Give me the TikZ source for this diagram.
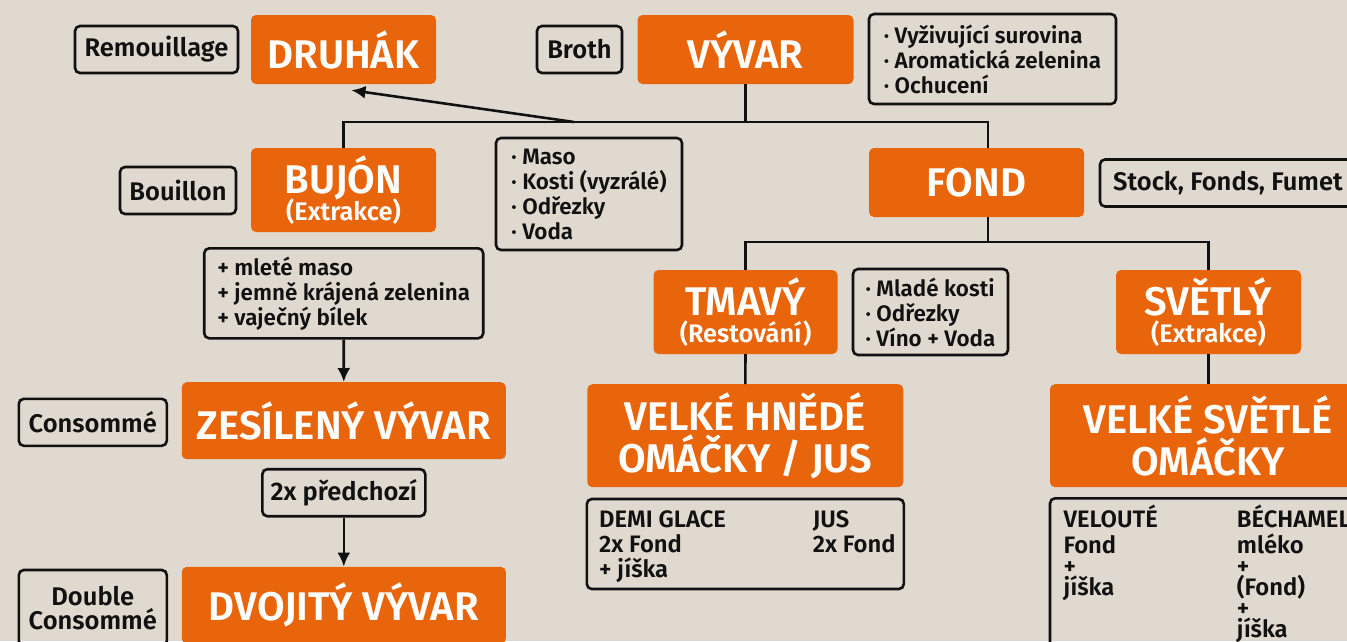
\documentclass[tikz,border=0pt]{standalone}
\usepackage{fontspec}
\IfFontExistsTF{Fira Sans SemiBold}
  {\setmainfont{Fira Sans}[BoldFont={Fira Sans SemiBold}]}
  {\setmainfont{Fira Sans}}
\usetikzlibrary{arrows.meta}
\definecolor{brand}{HTML}{E9650B}
\definecolor{wood}{HTML}{E0D9CF}
\definecolor{ink}{HTML}{111111}
\setlength\lineskiplimit{-30pt}
\newcommand\headfont{\fontsize{40}{42}\selectfont\bfseries}
\newcommand\subfont{\fontsize{25.4}{27}\selectfont\bfseries}
\newcommand\tagfont{\fontsize{25.5}{24}\selectfont\bfseries}
\newcommand\listfont{\fontsize{22.4}{25}\selectfont\bfseries}
\newcommand\colfont{\fontsize{23.8}{25}\selectfont\bfseries}
\tikzset{>={Latex[length=14pt,width=13pt]}}
\tikzset{
  orangebox/.style={fill=brand, text=white, rounded corners=5pt,
    font=\headfont, align=center, inner sep=0pt},
  tagbox/.style={draw=ink, line width=2.6pt, rounded corners=5pt,
    text=ink, font=\tagfont, align=center, inner sep=0pt},
  listbox/.style={tagbox, align=left, font=\listfont},
  colnode/.style={text=ink, font=\colfont, align=left, inner sep=0pt, anchor=north west},
  link/.style={draw=ink, line width=2.6pt},
}

\begin{document}
\begin{tikzpicture}[x=1pt,y=-1pt]
    \clip (0,0) rectangle (1347,641);
    \fill[wood] (0,0) rectangle (1347,641);
    %top row
    \node[tagbox, minimum width=163pt, minimum height=47pt] (remou) at (156.5,49.5) {Remouillage};
    \node[orangebox, minimum width=185pt, minimum height=69pt] (druhak) at (343.5,49.5) {DRUHÁK};
    \node[tagbox, minimum width=85pt, minimum height=47pt] (broth) at (579.5,49.5) {Broth};
    \node[orangebox, minimum width=216pt, minimum height=69pt] (vyvar) at (745.5,49.5) {VÝVAR};
    \node[listbox, minimum width=247pt, minimum height=90pt] (vyvarinfo) at (992.5,59)
        {· Vyživující surovina\\· Aromatická zelenina\\· Ochucení};
    %second row
    \node[tagbox, minimum width=116pt, minimum height=47pt] (bouillon) at (178,190.5) {Bouillon};
    \node[orangebox, minimum width=185pt, minimum height=84pt] (bujon) at (343.5,190)
        {BUJÓN\\[-15pt]{\subfont (Extrakce)}};
    \node[listbox, minimum width=186pt, minimum height=112pt] (bujoninfo) at (589,194)
        {· Maso\\· Kosti (vyzrálé)\\· Odřezky\\· Voda};
    \node[orangebox, minimum width=215pt, minimum height=69pt] (fond) at (976.5,182.5) {FOND};
    \node[tagbox, minimum width=256pt, minimum height=47pt] (stock) at (1228,183) {Stock, Fonds, Fumet};
    %left column
    \node[listbox, minimum width=279pt, minimum height=90pt] (pridat) at (343.7,293.3)
        {+ mleté maso\\+ jemně krájená zelenina\\+ vaječný bílek};
    \node[orangebox, minimum width=324pt, minimum height=77pt] (zesileny) at (343.8,420.7) {ZESÍLENÝ VÝVAR};
    \node[tagbox, minimum width=148pt, minimum height=47pt] (consomme) at (92.8,422.3) {Consommé};
    \node[tagbox, minimum width=163pt, minimum height=47pt] (predchozi) at (343.8,492.7) {2x předchozí};
    \node[orangebox, minimum width=324pt, minimum height=77pt] (dvojity) at (343.8,605.3) {DVOJITÝ VÝVAR};
    \node[tagbox, minimum width=148pt, minimum height=76pt] (double) at (92.8,608) {Double\\Consommé};
    %fond branches
    \node[orangebox, minimum width=184pt, minimum height=84pt] (tmavy) at (745.5,312)
        {TMAVÝ\\[-15pt]{\subfont (Restování)}};
    \node[listbox, minimum width=155pt, minimum height=86pt] (tmavyinfo) at (930.5,312)
        {· Mladé kosti\\· Odřezky\\· Víno + Voda};
    \node[orangebox, minimum width=185pt, minimum height=84pt] (svetly) at (1208.5,312)
        {SVĚTLÝ\\[-15pt]{\subfont (Extrakce)}};
    \node[orangebox, minimum width=316pt, minimum height=103pt] (hnede) at (745.3,435.7)
        {VELKÉ HNĚDÉ\\OMÁČKY / JUS};
    \node[tagbox, minimum width=317pt, minimum height=90pt] (hnedeinfo) at (745.3,544) {};
    \node[colnode] (demi) at (599,510) {DEMI GLACE\\2x Fond\\+ jíška};
    \node[colnode] (jus) at (812.7,510) {JUS\\2x Fond};
    \node[orangebox, minimum width=316pt, minimum height=103pt] (svetle) at (1208,435.7)
        {VELKÉ SVĚTLÉ\\OMÁČKY};
    \node[tagbox, minimum width=317pt, minimum height=160pt] (svetleinfo) at (1208.5,578.3) {};
    \node[colnode] (veloute) at (1063.3,505) {VELOUTÉ\\[1pt]Fond\\[-4pt]+\\[-4pt]jíška};
    \node[colnode] (bechamel) at (1236.7,505)
        {BÉCHAMEL\\[1pt]mléko\\[-4pt]+\\[-4pt](Fond)\\[-4pt]+\\[-4pt]jíška};
    %connectors
    \coordinate (split1) at (745.5,122);
    \coordinate (branch) at (574,122);
    \coordinate (fondin) at (988,148);
    \coordinate (fondout) at (988,217);
    \coordinate (split2) at (988,242);
    \draw[link] (vyvar.south) -- (split1);
    \draw[link] (bujon.north) |- (split1) -| (fondin);
    \draw[link,->] (branch) -- ([shift={(8,6)}]druhak.south);
    \draw[link] (fondout) -- (split2);
    \draw[link] (tmavy.north) |- (split2) -| (svetly.north);
    \draw[link] (tmavy.south) -- (hnede.north);
    \draw[link] (svetly.south) -- (svetle.north -| svetly.south);
    \draw[link,->] (pridat.south) -- (zesileny.north);
    \draw[link,->] (predchozi.south) -- (dvojity.north);
\end{tikzpicture}
\end{document}
